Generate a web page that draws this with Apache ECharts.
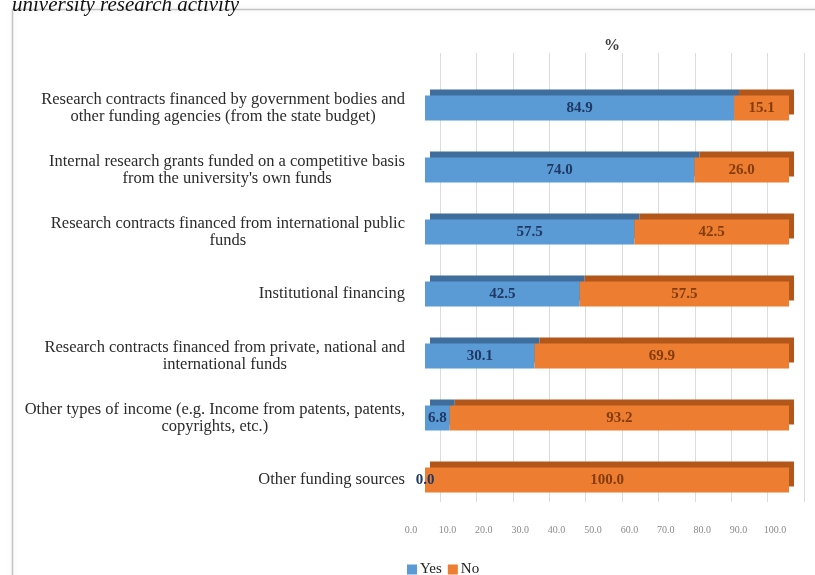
<!DOCTYPE html>
<html><head><meta charset="utf-8">
<script src="https://cdn.jsdelivr.net/npm/echarts@6/dist/echarts.min.js"></script>
<style>html,body{margin:0;padding:0;background:#fff}#c{width:815px;height:575px}</style>
</head><body><div id="c"></div>
<script>
const categories = [
  "Research contracts financed by government bodies and\nother funding agencies (from the state budget)",
  "Internal research grants funded on a competitive basis\nfrom the university's own funds",
  "Research contracts financed from international public\nfunds",
  "Institutional financing",
  "Research contracts financed from private, national and\ninternational funds",
  "Other types of income (e.g. Income from patents, patents,\ncopyrights, etc.)",
  "Other funding sources"
];
const yesValues = [84.9, 74.0, 57.5, 42.5, 30.1, 6.8, 0.0];
const noValues  = [15.1, 26.0, 42.5, 57.5, 69.9, 93.2, 100.0];
const tickLabels = ["0.0","10.0","20.0","30.0","40.0","50.0","60.0","70.0","80.0","90.0","100.0"];

const serif = "'Liberation Serif', 'Times New Roman', serif";
const chart = echarts.init(document.getElementById('c'), null, {renderer:'canvas'});
const catFormatter = v => v.split('\n').map(l => '{c|' + l + '}').join('\n');

chart.setOption({
  animation: false,
  backgroundColor: '#fff',
  title: { text: '%', left: 607, top: 33, textAlign: 'center',
    textStyle: { fontFamily: serif, fontSize: 16, fontWeight: 'bold', color: '#404040' } },
  legend: {
    left: 402, top: 557, itemWidth: 10, itemHeight: 10, itemGap: 6,
    icon: 'rect',
    textStyle: { fontFamily: serif, fontSize: 15, color: '#222', padding: [0,0,0,-2] },
    data: ['Yes', 'No']
  },
  graphic: [
    { type: 'rect', shape: { x: 12.5, y: 9.5, width: 830, height: 600 },
      style: { fill: 'none', stroke: '#c4c4c4', lineWidth: 1.5, shadowColor: 'rgba(0,0,0,0.12)', shadowBlur: 6 }, z: -10 },
    { type: 'text', left: 12, top: -5,
      style: { text: 'university research activity', fontFamily: serif, fontSize: 21, fontStyle: 'italic', fill: '#111' } }
  ],
  grid: [
    { left: 425, width: 364, top: 77, bottom: 64 },
    { left: 440, width: 364, top: 53, bottom: 73 }
  ],
  xAxis: [
    { gridIndex: 0, type: 'value', min: 0, max: 100, interval: 10,
      axisLine: { show: false }, axisTick: { show: false }, splitLine: { show: false },
      axisLabel: { margin: 14, fontFamily: serif, fontSize: 10, color: '#8a8a8a', padding: [0, 28, 0, 0],
        formatter: (v) => tickLabels[Math.round(v / 10)] } },
    { gridIndex: 1, type: 'value', min: 0, max: 100, interval: 10,
      axisLine: { show: false }, axisTick: { show: false }, axisLabel: { show: false },
      splitLine: { show: true, lineStyle: { color: '#dcdcdc', width: 1 } } }
  ],
  yAxis: [
    { gridIndex: 0, type: 'category', inverse: true, data: categories,
      axisLine: { show: false }, axisTick: { show: false },
      axisLabel: { margin: 20, align: 'right', formatter: catFormatter,
        rich: { c: { align: 'center', fontFamily: serif, fontSize: 16.5, color: '#2b2b2b', lineHeight: 17 } } } },
    { gridIndex: 1, type: 'category', data: categories, show: false }
  ],
  series: [
    { name: 'Yes', type: 'bar', stack: 's', xAxisIndex: 0, yAxisIndex: 0, barWidth: 25,
      data: yesValues,
      itemStyle: { color: '#5B9BD5', shadowColor: '#3F6E9C', shadowOffsetX: 5, shadowOffsetY: -6, shadowBlur: 0 },
      label: { show: true, position: 'inside', fontFamily: serif, fontSize: 15, fontWeight: 'bold', color: '#1F3864',
        formatter: p => p.value.toFixed(1) } },
    { name: 'No', type: 'bar', stack: 's', xAxisIndex: 0, yAxisIndex: 0, barWidth: 25,
      data: noValues,
      itemStyle: { color: '#ED7D31', shadowColor: '#B3561A', shadowOffsetX: 5, shadowOffsetY: -6, shadowBlur: 0 },
      label: { show: true, position: 'inside', fontFamily: serif, fontSize: 15, fontWeight: 'bold', color: '#843C0C',
        formatter: p => p.value.toFixed(1) } }
  ]
});
</script></body></html>
